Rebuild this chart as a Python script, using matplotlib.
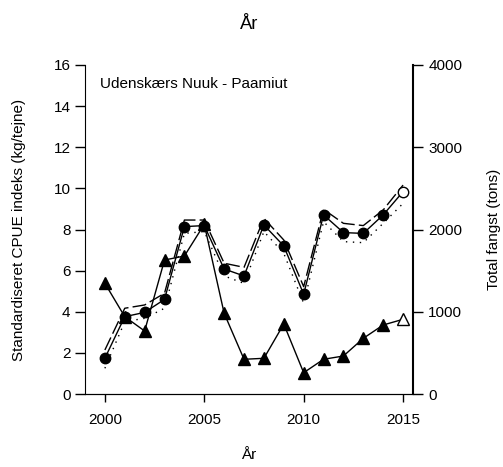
import matplotlib
matplotlib.use('agg')
import matplotlib.pyplot as plt

# CPUE index (left axis) and total catch (right axis)
years = [2000, 2001, 2002, 2003, 2004, 2005, 2006, 2007,
         2008, 2009, 2010, 2011, 2012, 2013, 2014, 2015]
cpue = [1.74, 3.76, 3.97, 4.60, 8.14, 8.19, 6.08, 5.74,
        8.22, 7.20, 4.85, 8.71, 7.85, 7.81, 8.71, 9.84]
cpue_upper = [2.14, 4.17, 4.33, 4.90, 8.46, 8.46, 6.36, 6.16,
              8.54, 7.49, 5.22, 8.98, 8.30, 8.19, 8.95, 10.16]
cpue_lower = [1.25, 3.52, 3.68, 4.17, 7.81, 7.90, 5.74, 5.38,
              7.90, 6.84, 4.41, 8.38, 7.41, 7.36, 8.30, 9.27]
catch = [1346, 940, 766, 1629, 1678, 2063, 981, 422,
         434, 851, 259, 422, 462, 677, 839, 908]

plt.rcParams['font.family'] = ['Liberation Sans', 'DejaVu Sans']
plt.rcParams['font.size'] = 11

fig = plt.figure(figsize=(5.03, 4.67), dpi=100)
ax = fig.add_axes([85/503, 1-394/467, 328/503, 329/467])

# upper / lower bounds and the index itself
ax.plot(years, cpue_upper, color='black', lw=1, dashes=(10, 3))
ax.plot(years, cpue_lower, color='black', lw=1, dashes=(1, 4))
ax.plot(years, cpue, color='black', lw=1)
ax.plot(years[:-1], cpue[:-1], 'o', color='black', ms=7.5)
ax.plot(years[-1:], cpue[-1:], 'o', mfc='white', mec='black', ms=7.5, mew=1)

ax.set_xlim(1999, 2015.5)
ax.set_ylim(0, 16)
ax.set_yticks(range(0, 17, 2))
ax.set_xticks([2000, 2005, 2010, 2015])
ax.tick_params(axis='y', length=7, width=1, pad=3.5)
ax.tick_params(axis='x', length=6, width=1, pad=8)
ax.spines['top'].set_visible(False)
ax.spines['right'].set_visible(False)
ax.set_ylabel('Standardiseret CPUE indeks (kg/tejne)', labelpad=20)
ax.set_xlabel('År', labelpad=15)
ax.set_title('År', pad=26)
ax.text(1999.75, 15.1, 'Udenskærs Nuuk - Paamiut', va='center')

ax2 = ax.twinx()
ax2.plot(years, catch, color='black', lw=1)
ax2.plot(years[:-1], catch[:-1], '^', color='black', ms=8.5)
ax2.plot(years[-1:], catch[-1:], '^', mfc='white', mec='black', ms=8.5, mew=1)
ax2.set_ylim(0, 4000)
ax2.set_yticks([0, 1000, 2000, 3000, 4000])
ax2.tick_params(axis='y', length=7, width=1, pad=4)
ax2.spines['top'].set_visible(False)
ax2.spines['left'].set_visible(False)
ax2.spines['right'].set_linewidth(1.5)
ax2.set_ylabel('Total fangst (tons)', labelpad=18)

fig.savefig('out.png', dpi=100)
